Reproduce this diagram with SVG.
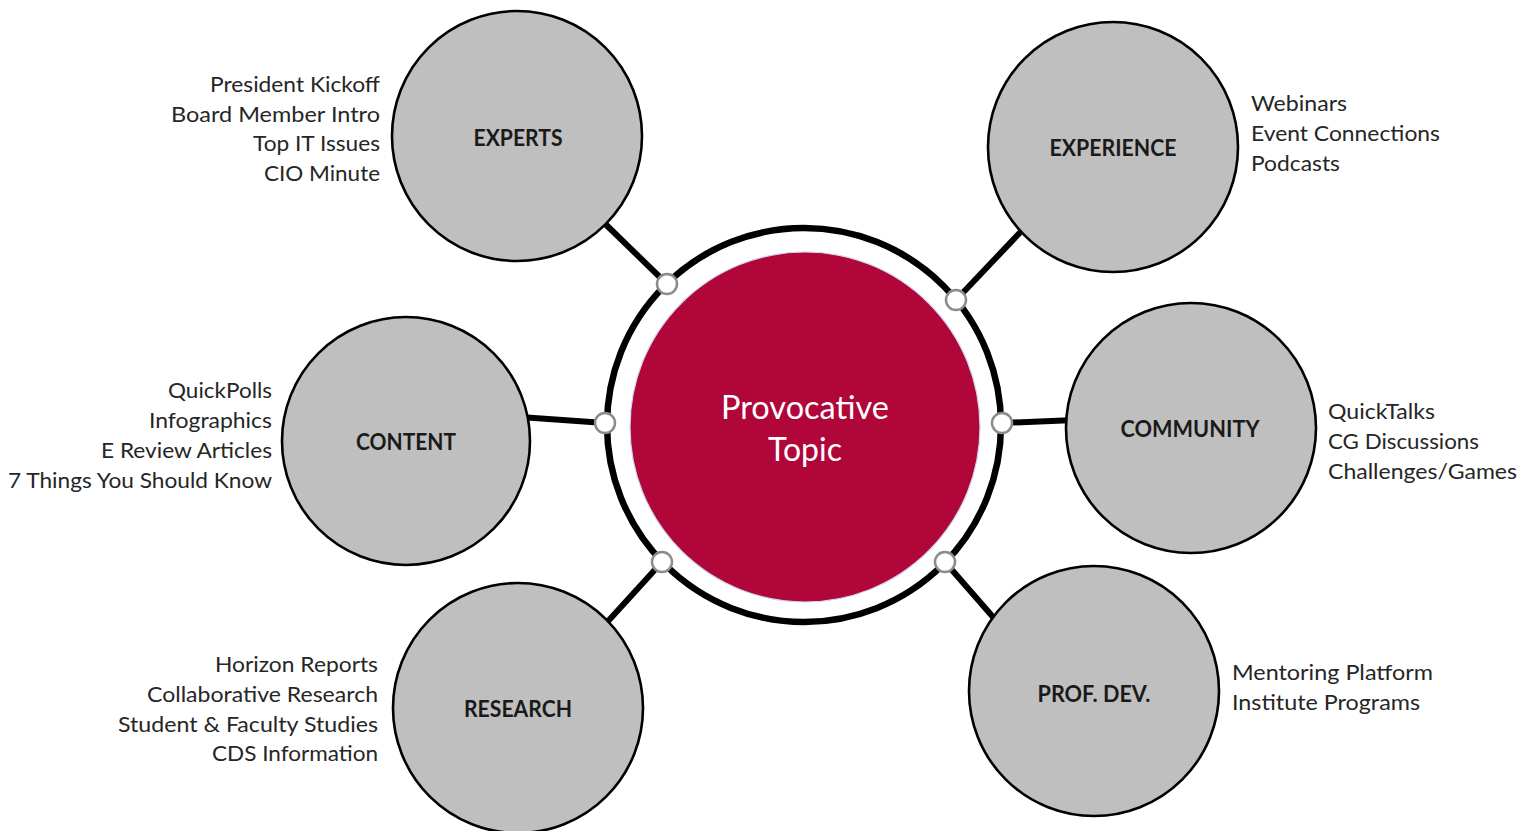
<svg xmlns="http://www.w3.org/2000/svg" width="1534" height="831" viewBox="0 0 1534 831">
<style>
.node{fill:#bfbfbf;stroke:#000;stroke-width:2.6}
.lbl{font-family:Lato,"Liberation Sans",sans-serif;font-weight:bold;font-size:22px;fill:#1a1a1a;text-anchor:middle}
.item{font-family:Lato,"Liberation Sans",sans-serif;font-size:22px;fill:#262626}
.l{text-anchor:end}
.conn{stroke:#000;stroke-width:6;stroke-linecap:butt;fill:none}
.dot{fill:#fff;stroke:#8c8c8c;stroke-width:2.5}
.ctr{font-family:Lato,"Liberation Sans",sans-serif;font-size:32px;fill:#fff;text-anchor:middle}
</style>
<rect width="1534" height="831" fill="#fff"/>
<g id="connectors">
<line class="conn" x1="595" y1="214" x2="667" y2="284"/>
<line class="conn" x1="1030" y1="222" x2="956" y2="300"/>
<line class="conn" x1="520" y1="417" x2="605" y2="423"/>
<line class="conn" x1="1002" y1="423" x2="1075" y2="420"/>
<line class="conn" x1="662" y1="562" x2="600" y2="630"/>
<line class="conn" x1="945" y1="562" x2="1000" y2="625"/>
</g>
<g id="center">
<circle cx="804" cy="425" r="197" fill="#fff" stroke="#000" stroke-width="6.5"/>
<circle cx="805" cy="427" r="175" fill="#b00639" stroke="#cfd6f2" stroke-width="1.2"/>
<text class="ctr" x="805" y="419" textLength="168" lengthAdjust="spacingAndGlyphs">Provocative</text>
<text class="ctr" x="805" y="461" textLength="74" lengthAdjust="spacingAndGlyphs">Topic</text>
</g>
<g id="ports">
<circle class="dot" cx="667" cy="284" r="10"/>
<circle class="dot" cx="956" cy="300" r="10"/>
<circle class="dot" cx="605" cy="423" r="10"/>
<circle class="dot" cx="1002" cy="423" r="10"/>
<circle class="dot" cx="662" cy="562" r="10"/>
<circle class="dot" cx="945" cy="562" r="10"/>
</g>
<g id="experts">
<circle class="node" cx="517" cy="136" r="125"/>
<text class="lbl" x="518" y="146" textLength="89" lengthAdjust="spacingAndGlyphs">EXPERTS</text>
<text class="item l" x="380" y="92" textLength="170" lengthAdjust="spacingAndGlyphs">President Kickoff</text>
<text class="item l" x="380" y="122" textLength="209" lengthAdjust="spacingAndGlyphs">Board Member Intro</text>
<text class="item l" x="380" y="151" textLength="127" lengthAdjust="spacingAndGlyphs">Top IT Issues</text>
<text class="item l" x="380" y="181" textLength="116" lengthAdjust="spacingAndGlyphs">CIO Minute</text>
</g>
<g id="experience">
<circle class="node" cx="1113" cy="147" r="125"/>
<text class="lbl" x="1113" y="156" textLength="127" lengthAdjust="spacingAndGlyphs">EXPERIENCE</text>
<text class="item" x="1251" y="111" textLength="96" lengthAdjust="spacingAndGlyphs">Webinars</text>
<text class="item" x="1251" y="141" textLength="189" lengthAdjust="spacingAndGlyphs">Event Connections</text>
<text class="item" x="1251" y="171" textLength="89" lengthAdjust="spacingAndGlyphs">Podcasts</text>
</g>
<g id="content">
<circle class="node" cx="406" cy="441" r="124"/>
<text class="lbl" x="406" y="450" textLength="100" lengthAdjust="spacingAndGlyphs">CONTENT</text>
<text class="item l" x="272" y="398" textLength="104" lengthAdjust="spacingAndGlyphs">QuickPolls</text>
<text class="item l" x="272" y="428" textLength="123" lengthAdjust="spacingAndGlyphs">Infographics</text>
<text class="item l" x="272" y="458" textLength="171" lengthAdjust="spacingAndGlyphs">E Review Articles</text>
<text class="item l" x="272" y="488" textLength="264" lengthAdjust="spacingAndGlyphs">7 Things You Should Know</text>
</g>
<g id="community">
<circle class="node" cx="1191" cy="428" r="125"/>
<text class="lbl" x="1190" y="437" textLength="139" lengthAdjust="spacingAndGlyphs">COMMUNITY</text>
<text class="item" x="1328" y="419" textLength="107" lengthAdjust="spacingAndGlyphs">QuickTalks</text>
<text class="item" x="1328" y="449" textLength="151" lengthAdjust="spacingAndGlyphs">CG Discussions</text>
<text class="item" x="1328" y="479" textLength="189" lengthAdjust="spacingAndGlyphs">Challenges/Games</text>
</g>
<g id="research">
<circle class="node" cx="518" cy="708" r="125"/>
<text class="lbl" x="518" y="717" textLength="108" lengthAdjust="spacingAndGlyphs">RESEARCH</text>
<text class="item l" x="378" y="672" textLength="163" lengthAdjust="spacingAndGlyphs">Horizon Reports</text>
<text class="item l" x="378" y="702" textLength="231" lengthAdjust="spacingAndGlyphs">Collaborative Research</text>
<text class="item l" x="378" y="732" textLength="260" lengthAdjust="spacingAndGlyphs">Student &amp; Faculty Studies</text>
<text class="item l" x="378" y="761" textLength="166" lengthAdjust="spacingAndGlyphs">CDS Information</text>
</g>
<g id="profdev">
<circle class="node" cx="1094" cy="691" r="125"/>
<text class="lbl" x="1094" y="702" textLength="113" lengthAdjust="spacingAndGlyphs">PROF. DEV.</text>
<text class="item" x="1232" y="680" textLength="201" lengthAdjust="spacingAndGlyphs">Mentoring Platform</text>
<text class="item" x="1232" y="710" textLength="188" lengthAdjust="spacingAndGlyphs">Institute Programs</text>
</g>
</svg>
